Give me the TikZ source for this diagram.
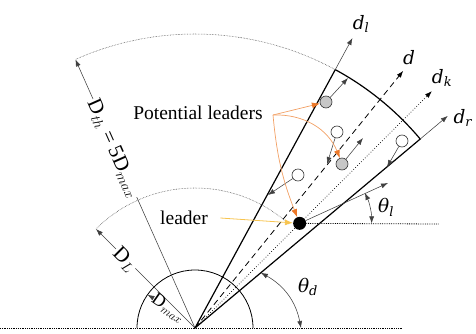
\documentclass[tikz,border=0pt]{standalone}
\usepackage{fontspec}
\setmainfont{Liberation Serif}
\newfontfamily\symfont{DejaVu Serif}
\usepackage{xcolor}
\usetikzlibrary{arrows.meta, positioning, calc}

\definecolor{potorange}{RGB}{242,160,100}
\definecolor{tiporange}{RGB}{236,120,40}
\definecolor{leadyellow}{RGB}{247,196,80}

% italic symbol with italic subscript
\newcommand{\sym}[2]{\textit{#1}\textsubscript{\textit{#2}}}

\begin{document}
\begin{tikzpicture}[
    x=1pt, y=1pt,
    >={Latex[length=7pt,width=5pt]},
    bound/.style={draw=black, line width=1.2pt},
    guide/.style={draw=black!75, line width=0.55pt},
    agent/.style={circle, draw=black!80, line width=0.6pt, fill=white, minimum size=12pt, inner sep=0pt},
    candidate/.style={agent, fill=black!22},
    leaderdot/.style={circle, fill=black, minimum size=13pt, inner sep=0pt},
    txt/.style={font=\fontsize{19.5}{22}\selectfont},
    dirlbl/.style={font=\symfont\fontsize{18.5}{22}\selectfont},
    rlbl/.style={fill=white, inner sep=1pt, font=\fontsize{21}{24}\selectfont},
    pointer/.style={draw=potorange, line width=0.7pt, -{Latex[length=8pt,width=6pt,color=tiporange]}},
    yellowptr/.style={draw=leadyellow, line width=0.8pt, -{Latex[length=8pt,width=6pt,color=leadyellow]}}
]
\useasboundingbox (-195,-5) rectangle (281,328);

% base
\coordinate (O) at (0,0);
\coordinate (bl) at (-195,0);
\coordinate (br) at (208,0);
\draw[densely dotted, line width=0.8pt] (bl) -- (br);
\draw[line width=0.8pt] (58,0) arc[start angle=0, end angle=180, radius=58];

% ranges
\draw[guide, densely dotted] (61.5:294) arc[start angle=61.5, end angle=114, radius=294];
\draw[guide, densely dotted] (48:140) arc[start angle=48, end angle=135, radius=140];
\draw[guide, ->] (O) -- (114:294);
\draw[guide, ->] (O) -- (135:140);
\node[rlbl, rotate=-66] (dth) at (114.5:197) {D$_{th}$ = 5D$_{max}$};
\node[rlbl, rotate=-45] (dL) at (136:98) {D$_{L}$};
\node[inner sep=0pt, rotate=-35, font=\fontsize{18}{20}\selectfont] (dmax) at (144:33) {D$_{max}$};
\draw[guide, ->] (dmax.west) -- (145:58);

% sector and directions
\coordinate (lend) at (61.5:294);
\coordinate (rend) at (40:294);
\draw[bound] (O) -- (lend) arc[start angle=61.5, end angle=40, radius=294] -- (O);
\draw[guide, ->] (lend) -- (61.5:330) coordinate (ltip);
\draw[guide, ->] (rend) -- (40:330) coordinate (rtip);
\draw[dashed, dash pattern=on 6pt off 4pt, line width=0.8pt, ->] (O) -- (51:331) coordinate (dtip);
\draw[dotted, line width=0.7pt, ->] (O) -- (45:335) coordinate (ktip);
\node[dirlbl] (dl) at (166,304) {\sym{d}{l}};
\node[dirlbl] (dd) at (214,270) {\textit{d}};
\node[dirlbl] (dk) at (247,250) {\sym{d}{k}};
\node[dirlbl, anchor=west] (dr) at (255,210) {\sym{d}{r}};

% agents
\node[leaderdot] (lead) at (45:148) {};
\node[candidate] (g1) at (131,226) {};
\node[candidate] (g2) at (147,164) {};
\node[agent] (w1) at (142,196) {};
\node[agent] (w2) at (103,153) {};
\node[agent] (w3) at (207,187) {};
\draw[guide, ->] (g1) -- (153,250);
\draw[guide, ->] (g2) -- (168,190);
\draw[guide, ->] (w1) -- (132,164);
\draw[guide, ->] (w2) -- (73,133);
\draw[guide, ->] (w3) -- (192,161);
\draw[guide, ->] (lead) -- (193,145);

% angles
\draw[densely dotted, line width=0.8pt] (lead) -- (244,104);
\path (lead) ++(25:72) coordinate (tl1);
\draw[guide, <->] (tl1) arc[start angle=25, end angle=0, radius=72];
\node[dirlbl] (thl) at (191,121) {\sym{θ}{l}};
\coordinate (td1) at (40:86);
\coordinate (td2) at (106,0);
\draw[guide, <->] (td1) to[bend left=25] (td2);
\node[dirlbl] (thd) at (113,41) {\sym{θ}{d}};

% potential leaders / leader
\node[txt] (pot) at (3,215) {Potential leaders};
\coordinate (pl) at (78,213);
\draw[pointer] (pl) -- (g1);
\draw[pointer] (pl) to[bend left=35] (g2);
\draw[pointer] (pl) to[bend right=8] (lead);
\node[txt] (ldr) at (-11,110) {leader};
\draw[yellowptr] ([xshift=9pt]ldr.east) -- (lead);

\end{tikzpicture}
\end{document}
